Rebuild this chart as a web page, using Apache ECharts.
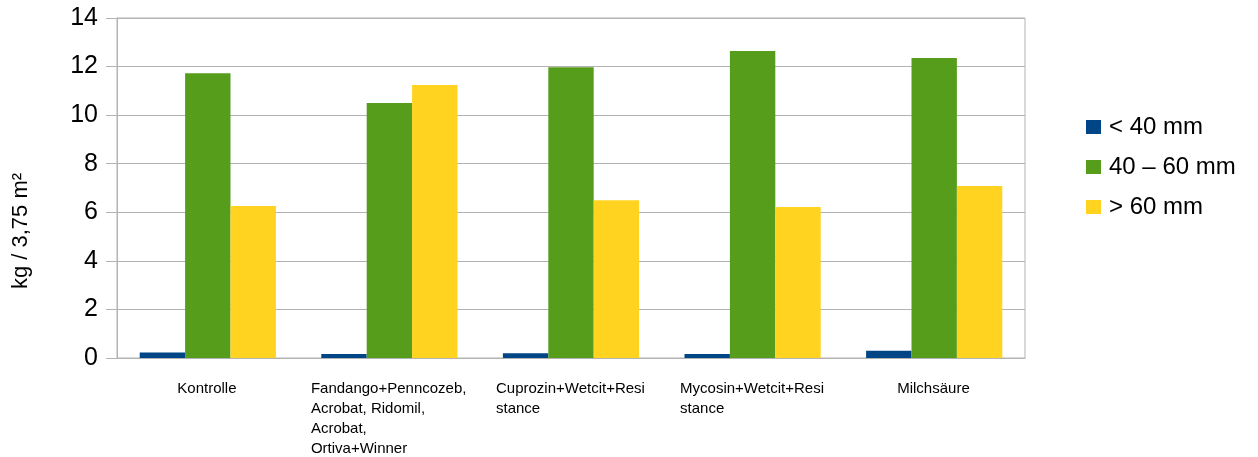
<!DOCTYPE html>
<html>
<head>
<meta charset="utf-8">
<script src="https://cdn.jsdelivr.net/npm/echarts@6/dist/echarts.min.js"></script>
<style>
html,body{margin:0;padding:0;background:#fff;}
#chart{width:1258px;height:457px;}
</style>
</head>
<body>
<div id="chart"></div>
<script>
var categories = [
  'Kontrolle',
  'Fandango+Penncozeb,\nAcrobat, Ridomil,\nAcrobat,\nOrtiva+Winner',
  'Cuprozin+Wetcit+Resi\nstance',
  'Mycosin+Wetcit+Resi\nstance',
  'Milchsäure'
];
var seriesNames = ['< 40 mm', '40 – 60 mm', '> 60 mm'];
var small = [0.23, 0.16, 0.20, 0.16, 0.30];
var medium = [11.73, 10.50, 11.97, 12.64, 12.35];
var large = [6.26, 11.24, 6.50, 6.22, 7.08];
var yTicks = { min: 0, max: 14, interval: 2 };
var axisTitle = 'kg / 3,75 m²';

var FONT = '"Liberation Sans", Arial, sans-serif';
var labelSize = 15;

// measure label blocks so multi-line labels are left-aligned inside a centered block
var cv = document.createElement('canvas').getContext('2d');
cv.font = labelSize + 'px "Liberation Sans", Arial, sans-serif';
var rich = {};
categories.forEach(function (c, i) {
  var w = 0;
  c.split('\n').forEach(function (l) { w = Math.max(w, cv.measureText(l).width); });
  rich['r' + i] = { width: Math.ceil(w) + 1, align: 'left', fontSize: labelSize, lineHeight: 20, color: '#000', fontFamily: FONT };
});

var chart = echarts.init(document.getElementById('chart'), null, { renderer: 'canvas' });
chart.setOption({
  animation: false,
  backgroundColor: '#fff',
  grid: { left: 117, right: 233, top: 18, bottom: 99, show: true, borderColor: '#b3b3b3', borderWidth: 1, backgroundColor: 'transparent' },
  legend: {
    orient: 'vertical', left: 1086, top: 115, padding: 0, itemWidth: 15, itemHeight: 14, itemGap: 16,
    icon: 'rect',
    textStyle: { fontSize: 24, fontFamily: FONT, color: '#000', padding: [0, 0, 0, 3] },
    data: seriesNames
  },
  graphic: [{
    type: 'text', x: 21, y: 231, rotation: Math.PI / 2,
    style: { text: axisTitle, font: '22px ' + FONT, fill: '#000', textAlign: 'center', textVerticalAlign: 'middle' }
  }],
  xAxis: {
    type: 'category', data: categories,
    axisLine: { lineStyle: { color: '#b3b3b3', width: 1 } },
    axisTick: { length: 12, lineStyle: { color: '#b3b3b3' } },
    axisLabel: {
      interval: 0, margin: 21,
      formatter: function (v, i) {
        return v.split('\n').map(function (l) { return '{r' + i + '|' + l + '}'; }).join('\n');
      },
      rich: rich,
      verticalAlign: 'top'
    }
  },
  yAxis: {
    type: 'value', min: yTicks.min, max: yTicks.max, interval: yTicks.interval,
    axisLine: { show: true, lineStyle: { color: '#b3b3b3' } },
    axisTick: { show: true, length: 11, lineStyle: { color: '#b3b3b3' } },
    splitLine: { lineStyle: { color: '#b3b3b3' } },
    axisLabel: { fontSize: 25, fontFamily: FONT, color: '#000', margin: 19 }
  },
  series: [
    { name: seriesNames[0], type: 'bar', data: small, itemStyle: { color: '#004586' }, barGap: '0%', barCategoryGap: '25%' },
    { name: seriesNames[1], type: 'bar', data: medium, itemStyle: { color: '#579d1c' }, barGap: '0%', barCategoryGap: '25%' },
    { name: seriesNames[2], type: 'bar', data: large, itemStyle: { color: '#ffd320' }, barGap: '0%', barCategoryGap: '25%' }
  ]
});
</script>
</body>
</html>
